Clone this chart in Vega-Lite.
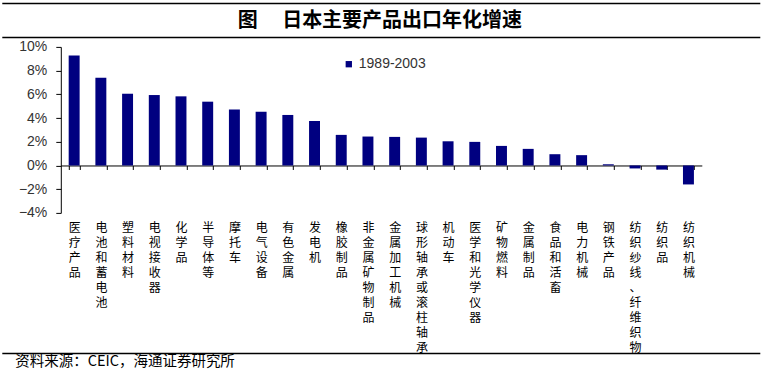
{
  "$schema": "https://vega.github.io/schema/vega-lite/v6.json",
  "background": "white",
  "padding": {"left": 1.3, "top": 2.5, "right": 0, "bottom": 0},
  "bounds": "flush",
  "center": true,
  "spacing": 9.4,
  "datasets": {
    "exports": [
      {"category": "医疗产品", "value": 0.0927},
      {"category": "电池和蓄电池", "value": 0.074},
      {"category": "塑料材料", "value": 0.0605},
      {"category": "电视接收器", "value": 0.0594},
      {"category": "化学品", "value": 0.0583},
      {"category": "半导体等", "value": 0.0538},
      {"category": "摩托车", "value": 0.0471},
      {"category": "电气设备", "value": 0.0454},
      {"category": "有色金属", "value": 0.0426},
      {"category": "发电机", "value": 0.0375},
      {"category": "橡胶制品", "value": 0.0258},
      {"category": "非金属矿物制品", "value": 0.0244},
      {"category": "金属加工机械", "value": 0.0241},
      {"category": "球形轴承或滚柱轴承", "value": 0.0235},
      {"category": "机动车", "value": 0.0204},
      {"category": "医学和光学仪器", "value": 0.0199},
      {"category": "矿物燃料", "value": 0.0165},
      {"category": "金属制品", "value": 0.014},
      {"category": "食品和活畜", "value": 0.0095},
      {"category": "电力机械", "value": 0.0087},
      {"category": "钢铁产品", "value": 0.001},
      {"category": "纺织纱线、纤维织物", "value": -0.0025},
      {"category": "纺织品", "value": -0.0035},
      {"category": "纺织机械", "value": -0.016}
    ]
  },
  "vconcat": [
    {
      "width": 758,
      "height": 34,
      "view": {"stroke": "black", "strokeWidth": 1.5, "strokeDash": [758, 34, 758, 34]},
      "data": {"values": [{"title": "图　  日本主要产品出口年化增速"}]},
      "mark": {"type": "text", "font": "Noto Sans CJK SC", "fontSize": 20, "fontWeight": "bold", "color": "black", "dx": -1.5},
      "encoding": {"text": {"field": "title"}}
    },
    {
      "width": 641,
      "height": 166,
      "view": {"stroke": null},
      "data": {"name": "exports"},
      "mark": {"type": "bar"},
      "encoding": {
        "x": {
          "field": "category",
          "type": "nominal",
          "sort": null,
          "scale": {"paddingInner": 0.59, "paddingOuter": 0.295},
          "axis": {
            "orient": "bottom",
            "offset": -47.43,
            "title": null,
            "domain": true,
            "domainColor": "black",
            "domainWidth": 1,
            "ticks": true,
            "tickBand": "extent",
            "tickSize": 4,
            "tickColor": "black",
            "labelAngle": 0,
            "labelAlign": "center",
            "labelBaseline": "top",
            "labelPadding": 53,
            "labelExpr": "split(datum.label, '')",
            "labelFont": "Noto Sans CJK SC",
            "labelFontSize": 12,
            "labelLineHeight": 15,
            "labelColor": "black",
            "labelOverlap": false,
            "labelLimit": 0
          }
        },
        "y": {
          "field": "value",
          "type": "quantitative",
          "scale": {"domain": [-0.04, 0.1], "nice": false},
          "axis": {
            "title": null,
            "values": [-0.04, -0.02, 0, 0.02, 0.04, 0.06, 0.08, 0.1],
            "format": ".0%",
            "grid": false,
            "domain": true,
            "domainColor": "black",
            "ticks": true,
            "tickSize": 5,
            "tickColor": "black",
            "labelPadding": 9,
            "labelFont": "Liberation Sans",
            "labelFontSize": 14,
            "labelColor": "#333333"
          }
        },
        "color": {
          "datum": "1989-2003",
          "scale": {"range": ["#000080"]},
          "legend": {
            "title": null,
            "orient": "none",
            "legendX": 339.5,
            "legendY": 53.7,
            "symbolType": "square",
            "symbolSize": 40,
            "symbolStrokeWidth": 0,
            "labelFont": "Liberation Sans",
            "labelFontSize": 14,
            "labelColor": "#333333",
            "labelOffset": 3
          }
        }
      }
    },
    {
      "width": 758,
      "height": 131.2,
      "view": {"stroke": "black", "strokeWidth": 1.5, "strokeDash": [0, 889.2, 758, 131.2]},
      "data": {"values": [{}]},
      "mark": {"type": "text"},
      "title": {
        "text": "资料来源：CEIC，海通证券研究所",
        "orient": "bottom",
        "anchor": "start",
        "offset": 2,
        "dx": 13,
        "font": "Noto Sans CJK SC",
        "fontSize": 14.5,
        "fontWeight": "normal",
        "color": "black"
      }
    }
  ],
  "config": {
    "view": {"stroke": null}
  }
}
